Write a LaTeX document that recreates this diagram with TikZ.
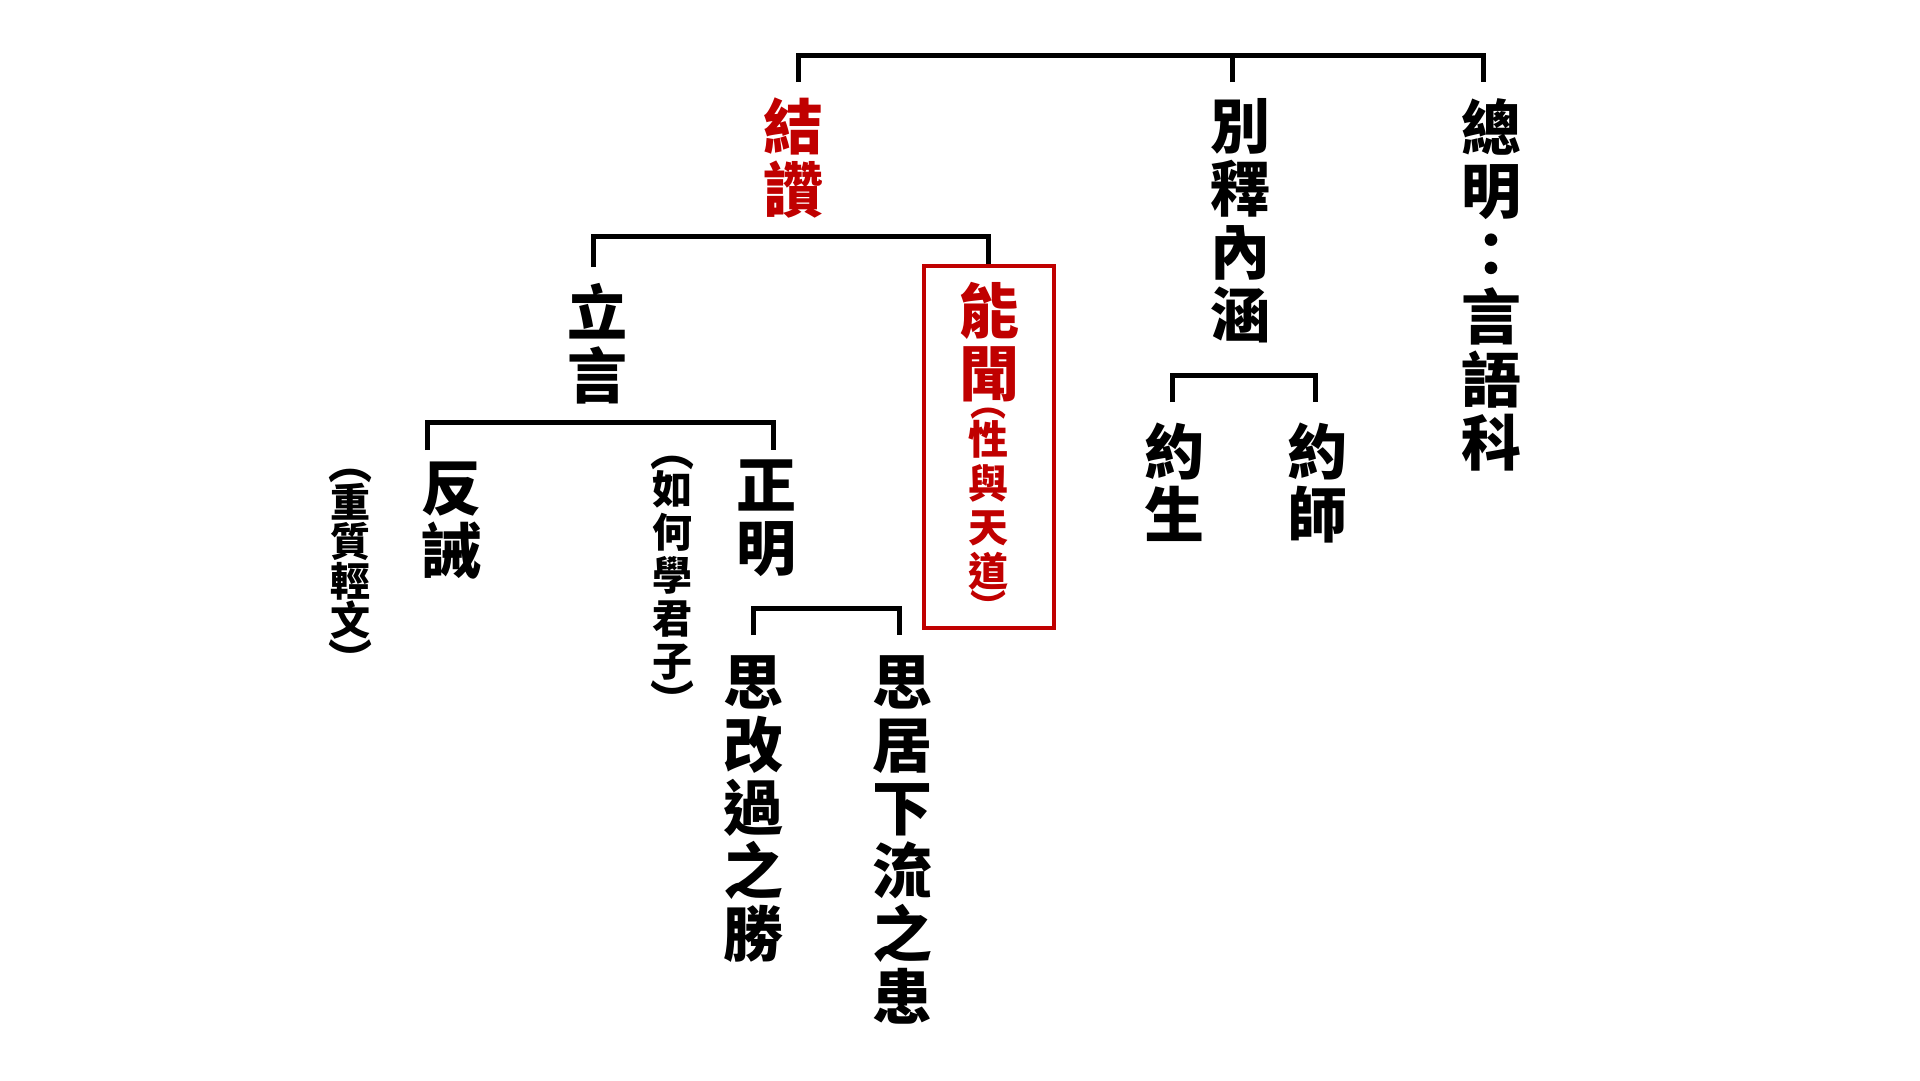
\documentclass[tikz,border=0pt]{standalone}
\usepackage{fontspec}
\newfontfamily\cjk{Noto Sans CJK TC}
\usetikzlibrary{positioning, fit}
\definecolor{zanred}{RGB}{192,0,0}
\tikzset{
  head/.style={anchor=north, inner sep=0pt, align=center, font=\cjk\bfseries\fontsize{60}{63}\selectfont},
  note/.style={anchor=north, inner sep=0pt, align=center, font=\cjk\bfseries\fontsize{40}{41}\selectfont},
  paren/.style={inner sep=0pt, font=\cjk\bfseries\fontsize{44}{44}\selectfont},
  lparen/.style={paren, text height=14pt, text depth=3pt},
  smallparen/.style={font=\cjk\bfseries\fontsize{36}{36}\selectfont},
  bracket/.style={line width=5pt},
  redbox/.style={draw=zanred, line width=4pt, inner sep=0pt, minimum width=130pt}
}

\begin{document}
\begin{tikzpicture}[x=1pt, y=-1pt]
            \useasboundingbox (0,0) rectangle (1920,1080);

            \node[head, text=zanred] (jiezan) at (793,98) {結\\讚};
            \node[head] (bieshi) at (1240,98) {別\\釋\\內\\涵};
            \node[head] (zongming) at (1491,98) {總\\明\\：\\言\\語\\科};

            \node[head] (liyan) at (597,283) {立\\言};
            \node[head, text=zanred] (nengwen) at (989,282) {能\\聞};
            \node[note, text=zanred, font=\cjk\bfseries\fontsize{40}{44}\selectfont] (xingyu) at (988,420) {性\\與\\天\\道};
            \node[lparen, smallparen, text=zanred, text height=12pt, above=0pt of xingyu] (xingyu-l) {︵};
            \node[paren, smallparen, text=zanred, below=0pt of xingyu] (xingyu-r) {︶};
            \node[redbox, fit={([yshift=16pt]nengwen.north) ([yshift=-38pt]xingyu.south)}] (nengbox) {};

            \node[head] (fancheng) at (451,462) {反\\誡};
            \node[note, font=\cjk\bfseries\fontsize{40}{39.5}\selectfont] (zhongzhi) at (350,483) {重\\質\\輕\\文};
            \node[lparen, above=0pt of zhongzhi] (zhongzhi-l) {︵};
            \node[paren, below=0pt of zhongzhi] (zhongzhi-r) {︶};
            \node[note, font=\cjk\bfseries\fontsize{40}{43}\selectfont] (ruhe) at (672,470) {如\\何\\學\\君\\子};
            \node[lparen, above=0pt of ruhe] (ruhe-l) {︵};
            \node[paren, below=0pt of ruhe] (ruhe-r) {︶};
            \node[head] (zhengming) at (766,460) {正\\明};

            \node[head] (sigai) at (753,655) {思\\改\\過\\之\\勝};
            \node[head] (siju) at (902,655) {思\\居\\下\\流\\之\\患};

            \node[head] (yuesheng) at (1174,423) {約\\生};
            \node[head] (yueshi) at (1317,423) {約\\師};

            \draw[bracket] ([xshift=5pt,yshift=16pt]jiezan.north) |- ([xshift=-8pt,yshift=43pt]zongming.north)
              -- ([xshift=-8pt,yshift=16pt]zongming.north);
            \draw[bracket] ([xshift=-8pt,yshift=16pt]bieshi.north) -- ([xshift=-8pt,yshift=43pt]bieshi.north);
            \draw[bracket] ([xshift=-4pt,yshift=16pt]liyan.north) |- ([yshift=28pt]nengbox.north) -- (nengbox.north);
            \draw[bracket] ([xshift=-24pt,yshift=12pt]fancheng.north) |- ([xshift=7pt,yshift=38pt]zhengming.north)
              -- ([xshift=7pt,yshift=10pt]zhengming.north);
            \draw[bracket] ([yshift=20pt]sigai.north) |- ([xshift=-3pt,yshift=47pt]siju.north)
              -- ([xshift=-3pt,yshift=20pt]siju.north);
            \draw[bracket] ([xshift=-2pt,yshift=21pt]yuesheng.north) |- ([xshift=-2pt,yshift=48pt]yueshi.north)
              -- ([xshift=-2pt,yshift=21pt]yueshi.north);
\end{tikzpicture}
\end{document}
